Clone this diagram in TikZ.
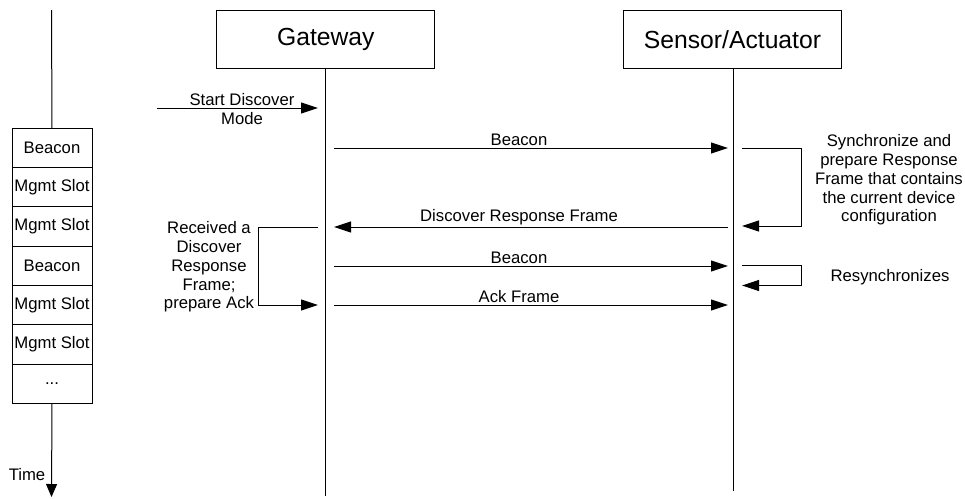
\documentclass[tikz,border=0pt]{standalone}
\usepackage{fontspec}
\setmainfont{Liberation Sans}
\usetikzlibrary{arrows.meta}
\begin{document}
\begin{tikzpicture}[x=1pt,y=-1pt,line width=1pt,
  lbl/.style={font=\fontsize{16.7}{18.7}\selectfont, inner sep=0pt},
  head/.style={draw, font=\fontsize{24.7}{28}\selectfont, minimum width=218, minimum height=58, inner sep=0pt},
  slot/.style={draw, font=\fontsize{16.7}{18.7}\selectfont, minimum width=80, minimum height=39.3, inner sep=0pt, outer sep=0pt},
  msg/.style={-{Triangle[length=17pt,width=11pt]}},
  tmsg/.style={-{Triangle[length=13pt,width=11pt]}}]
\useasboundingbox (0,0) rectangle (965,498);
% lifeline heads
\node[head] (gw) at (325.8,39.7) {Gateway};
\node[head] (sa) at (732.5,39.5) {Sensor/Actuator};
\coordinate (gwtop) at (325.3,69);
\coordinate (gwend) at (325.3,496);
\coordinate (satop) at (733.3,69);
\coordinate (saend) at (733.3,491);
\draw (gwtop) -- (gwend);
\draw (satop) -- (saend);
% time slots
\node[slot] (s1) at (52,148) {Beacon};
\node[slot, anchor=north] (s2) at (s1.south) {Mgmt Slot};
\node[slot, anchor=north] (s3) at (s2.south) {Mgmt Slot};
\node[slot, anchor=north] (s4) at (s3.south) {Beacon};
\node[slot, anchor=north] (s5) at (s4.south) {Mgmt Slot};
\node[slot, anchor=north] (s6) at (s5.south) {Mgmt Slot};
\node[slot, anchor=north] (s7) at (s6.south) {...};
\coordinate (ttop) at (51.5,10);
\coordinate (tend) at (51.5,497);
\draw (ttop) -- (s1.north);
\draw[tmsg] (s7.south) -- (tend);
\node[lbl, anchor=base] (time) at (27,480) {Time};
% start discover
\coordinate (st) at (157,108);
\coordinate (gst) at (318,108);
\draw[msg] (st) -- (gst);
\node[lbl, align=center] (stl) at (242,109) {Start Discover\\Mode};
% messages
\coordinate (g1) at (334,148);   \coordinate (a1) at (728,148);
\coordinate (g2) at (334,227);   \coordinate (a2) at (728,227);
\coordinate (g3) at (334,266);   \coordinate (a3) at (728,266);
\coordinate (g4) at (334,305);   \coordinate (a4) at (728,305);
\draw[msg] (g1) -- (a1);
\draw[msg] (a2) -- (g2);
\draw[msg] (g3) -- (a3);
\draw[msg] (g4) -- (a4);
\node[lbl, anchor=base] (m1) at (519,145) {Beacon};
\node[lbl, anchor=base] (m2) at (519,221) {Discover Response Frame};
\node[lbl, anchor=base] (m3) at (519,263) {Beacon};
\node[lbl, anchor=base] (m4) at (519,302) {Ack Frame};
% sensor self loops
\coordinate (sl1a) at (742,148);  \coordinate (sl1b) at (742,226);
\coordinate (sl2a) at (742,265.5);  \coordinate (sl2b) at (742,285.5);
\draw[msg] (sl1a) -- (801,148) -- (801,226) -- (sl1b);
\draw[msg] (sl2a) -- (801,265.5) -- (801,285.5) -- (sl2b);
\node[lbl, align=center] (sync) at (889,180) {Synchronize and\\prepare Response\\Frame that contains\\the current device\\configuration};
\node[lbl, anchor=base] (resync) at (890,281.5) {Resynchronizes};
% gateway self loop
\coordinate (gl1a) at (318,227);  \coordinate (gl1b) at (318,305);
\draw[msg] (gl1a) -- (258,227) -- (258,305) -- (gl1b);
\node[lbl, align=center] (recv) at (209,267) {Received a\\Discover\\Response\\Frame;\\prepare Ack};
\end{tikzpicture}
\end{document}
